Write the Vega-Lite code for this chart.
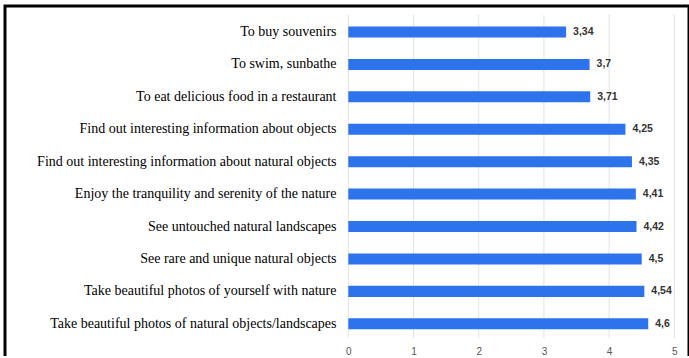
{
  "$schema": "https://vega.github.io/schema/vega-lite/v6.json",
  "width": 684,
  "height": 354,
  "autosize": {"type": "none"},
  "padding": {"left": 5, "top": 6, "right": 0, "bottom": -4},
  "background": "white",
  "config": {
    "locale": {"number": {"decimal": ",", "thousands": " ", "grouping": [3], "currency": ["", ""]}},
    "view": {"stroke": "#000000", "strokeWidth": 3},
    "axisX": {"grid": false, "domain": false, "ticks": false, "labelPadding": 0, "offset": -14,
              "labelFont": "Liberation Sans", "labelFontSize": 10, "labelColor": "#555555", "labelFlush": false},
    "axisY": {"domain": false, "ticks": false, "labelPadding": 0, "offset": -331,
              "labelFont": "Liberation Serif", "labelFontSize": 14, "labelColor": "#000000", "labelLimit": 500}
  },
  "datasets": {
    "survey": [
      {"item": "To buy souvenirs", "value": 3.34},
      {"item": "To swim, sunbathe", "value": 3.7},
      {"item": "To eat delicious food in a restaurant", "value": 3.71},
      {"item": "Find out interesting information about objects", "value": 4.25},
      {"item": "Find out interesting information about  natural objects", "value": 4.35},
      {"item": "Enjoy the tranquility and serenity of the nature", "value": 4.41},
      {"item": "See untouched natural landscapes", "value": 4.42},
      {"item": "See rare and unique natural objects", "value": 4.5},
      {"item": "Take beautiful photos of yourself with nature ", "value": 4.54},
      {"item": "Take beautiful photos of natural objects/landscapes", "value": 4.6}
    ],
    "ticks": [
      {"tick": 0}, {"tick": 1}, {"tick": 2}, {"tick": 3}, {"tick": 4}, {"tick": 5}
    ]
  },
  "layer": [
    {
      "data": {"name": "ticks"},
      "mark": {"type": "rule", "color": "#e2e2e2", "strokeWidth": 1, "yOffset": -17, "y2Offset": 14},
      "encoding": {
        "x": {"field": "tick", "type": "quantitative",
              "scale": {"domain": [-5.265, 5.225], "nice": false, "zero": false},
              "axis": {"values": [0, 1, 2, 3, 4, 5], "title": null}},
        "y": {"datum": "To buy souvenirs", "type": "nominal",
              "scale": {"domain": [
                "To buy souvenirs", "To swim, sunbathe", "To eat delicious food in a restaurant",
                "Find out interesting information about objects",
                "Find out interesting information about  natural objects",
                "Enjoy the tranquility and serenity of the nature", "See untouched natural landscapes",
                "See rare and unique natural objects", "Take beautiful photos of yourself with nature ",
                "Take beautiful photos of natural objects/landscapes"],
                "paddingInner": 0.66, "paddingOuter": 0.7895, "align": 0.4004},
              "axis": {"title": null}},
        "y2": {"datum": "Take beautiful photos of natural objects/landscapes"}
      }
    },
    {
      "data": {"name": "survey"},
      "mark": {"type": "bar", "color": "#2D73EB"},
      "encoding": {
        "x": {"field": "value", "type": "quantitative", "axis": {"values": [0, 1, 2, 3, 4, 5], "title": null}},
        "y": {"field": "item", "type": "nominal", "sort": null, "axis": {"title": null}}
      }
    },
    {
      "data": {"name": "survey"},
      "mark": {"type": "text", "align": "left", "baseline": "middle", "dx": 7,
               "font": "Liberation Sans", "fontWeight": "bold", "fontSize": 10.5, "color": "#333333"},
      "encoding": {
        "x": {"field": "value", "type": "quantitative", "axis": {"values": [0, 1, 2, 3, 4, 5], "title": null}},
        "y": {"field": "item", "type": "nominal", "sort": null, "axis": {"title": null}},
        "text": {"field": "value", "type": "quantitative", "format": "~g"}
      }
    }
  ]
}
